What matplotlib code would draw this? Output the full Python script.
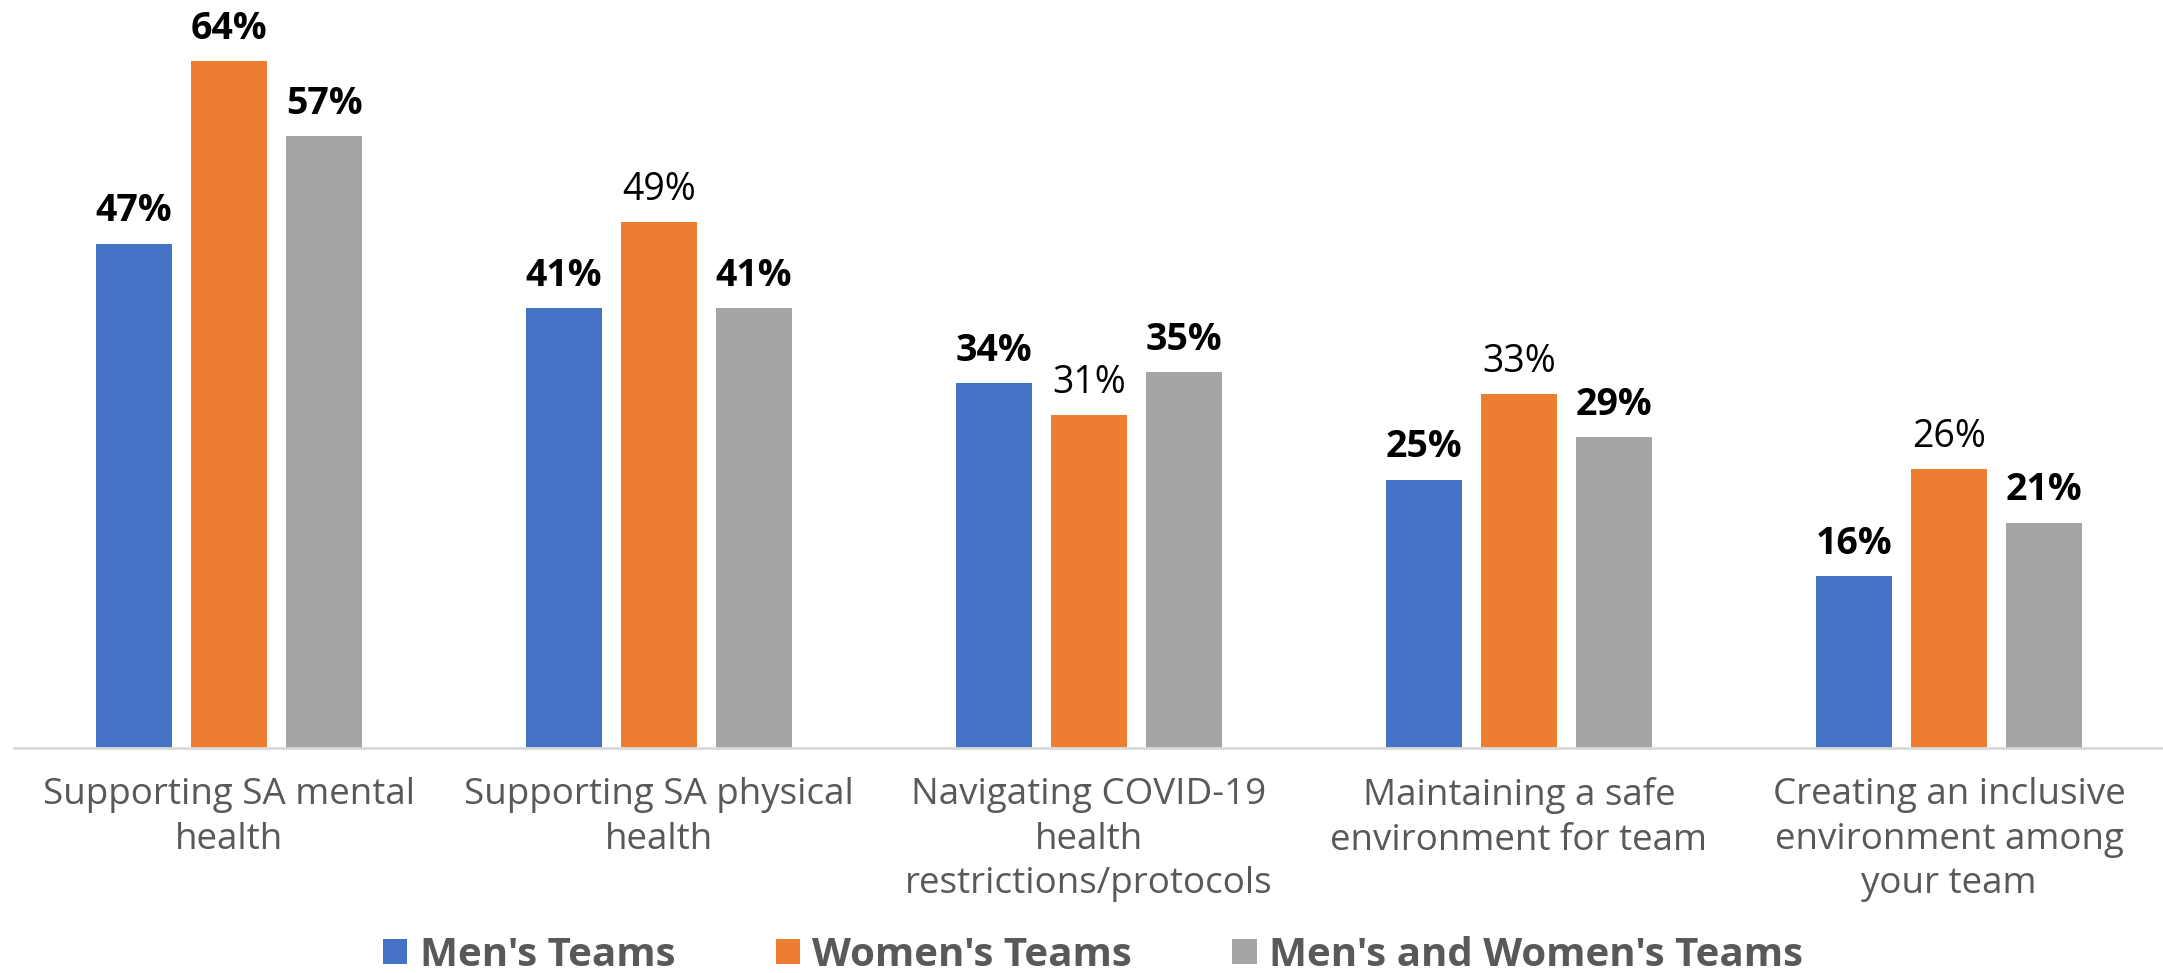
# grouped bar chart: challenges by team type
import numpy as np
import matplotlib.pyplot as plt

plt.rcParams['font.family'] = ['Open Sans', 'DejaVu Sans']

# data
categories = ['Supporting SA mental\nhealth',
              'Supporting SA physical\nhealth',
              'Navigating COVID-19\nhealth\nrestrictions/protocols',
              'Maintaining a safe\nenvironment for team',
              'Creating an inclusive\nenvironment among\nyour team']
series_names = ["Men's Teams", "Women's Teams", "Men's and Women's Teams"]
mens = [47, 41, 34, 25, 16]
womens = [64, 49, 31, 33, 26]
both = [57, 41, 35, 29, 21]

colors = ['#4472C4', '#ED7D31', '#A5A5A5']
# which value labels are bold (the women's labels after the first are plain)
bold = [[True] * 5,
        [True, False, False, False, False],
        [True] * 5]

W, H = 2163, 973
fig = plt.figure(figsize=(W / 100, H / 100), dpi=100)
ax = fig.add_axes([14 / W, 225 / H, 2150 / W, 748 / H])

x = np.arange(len(categories))
width = 0.177
step = 0.221
for i, (vals, name, c) in enumerate(zip([mens, womens, both], series_names, colors)):
    pos = x + (i - 1) * step
    ax.bar(pos, vals, width, color=c, label=name)
    for xp, v, b in zip(pos, vals, bold[i]):
        ax.annotate(f'{v}%', (xp, v), xytext=(0, 16), textcoords='offset points',
                    ha='center', va='baseline', fontsize=27,
                    fontweight='bold' if b else 'normal', color='black')

ax.set_xlim(-0.5, 4.5)
ax.set_ylim(0, 69.7)
ax.set_yticks([])
ax.set_xticks(x)
ax.set_xticklabels(categories, fontsize=26.5, color='#595959', linespacing=1.32)
ax.tick_params(axis='x', length=0, pad=21)
for s in ['top', 'right', 'left']:
    ax.spines[s].set_visible(False)
ax.spines['bottom'].set_color('#D9D9D9')
ax.spines['bottom'].set_linewidth(2)

fig.legend(loc='center', bbox_to_anchor=(1093 / W, 1 - 955 / H), ncol=3, frameon=False,
           prop={'size': 29, 'weight': 'bold'}, labelcolor='#595959',
           handlelength=0.6, handleheight=0.6, handletextpad=0.3, columnspacing=2.5)

fig.savefig('out.png', dpi=100)
